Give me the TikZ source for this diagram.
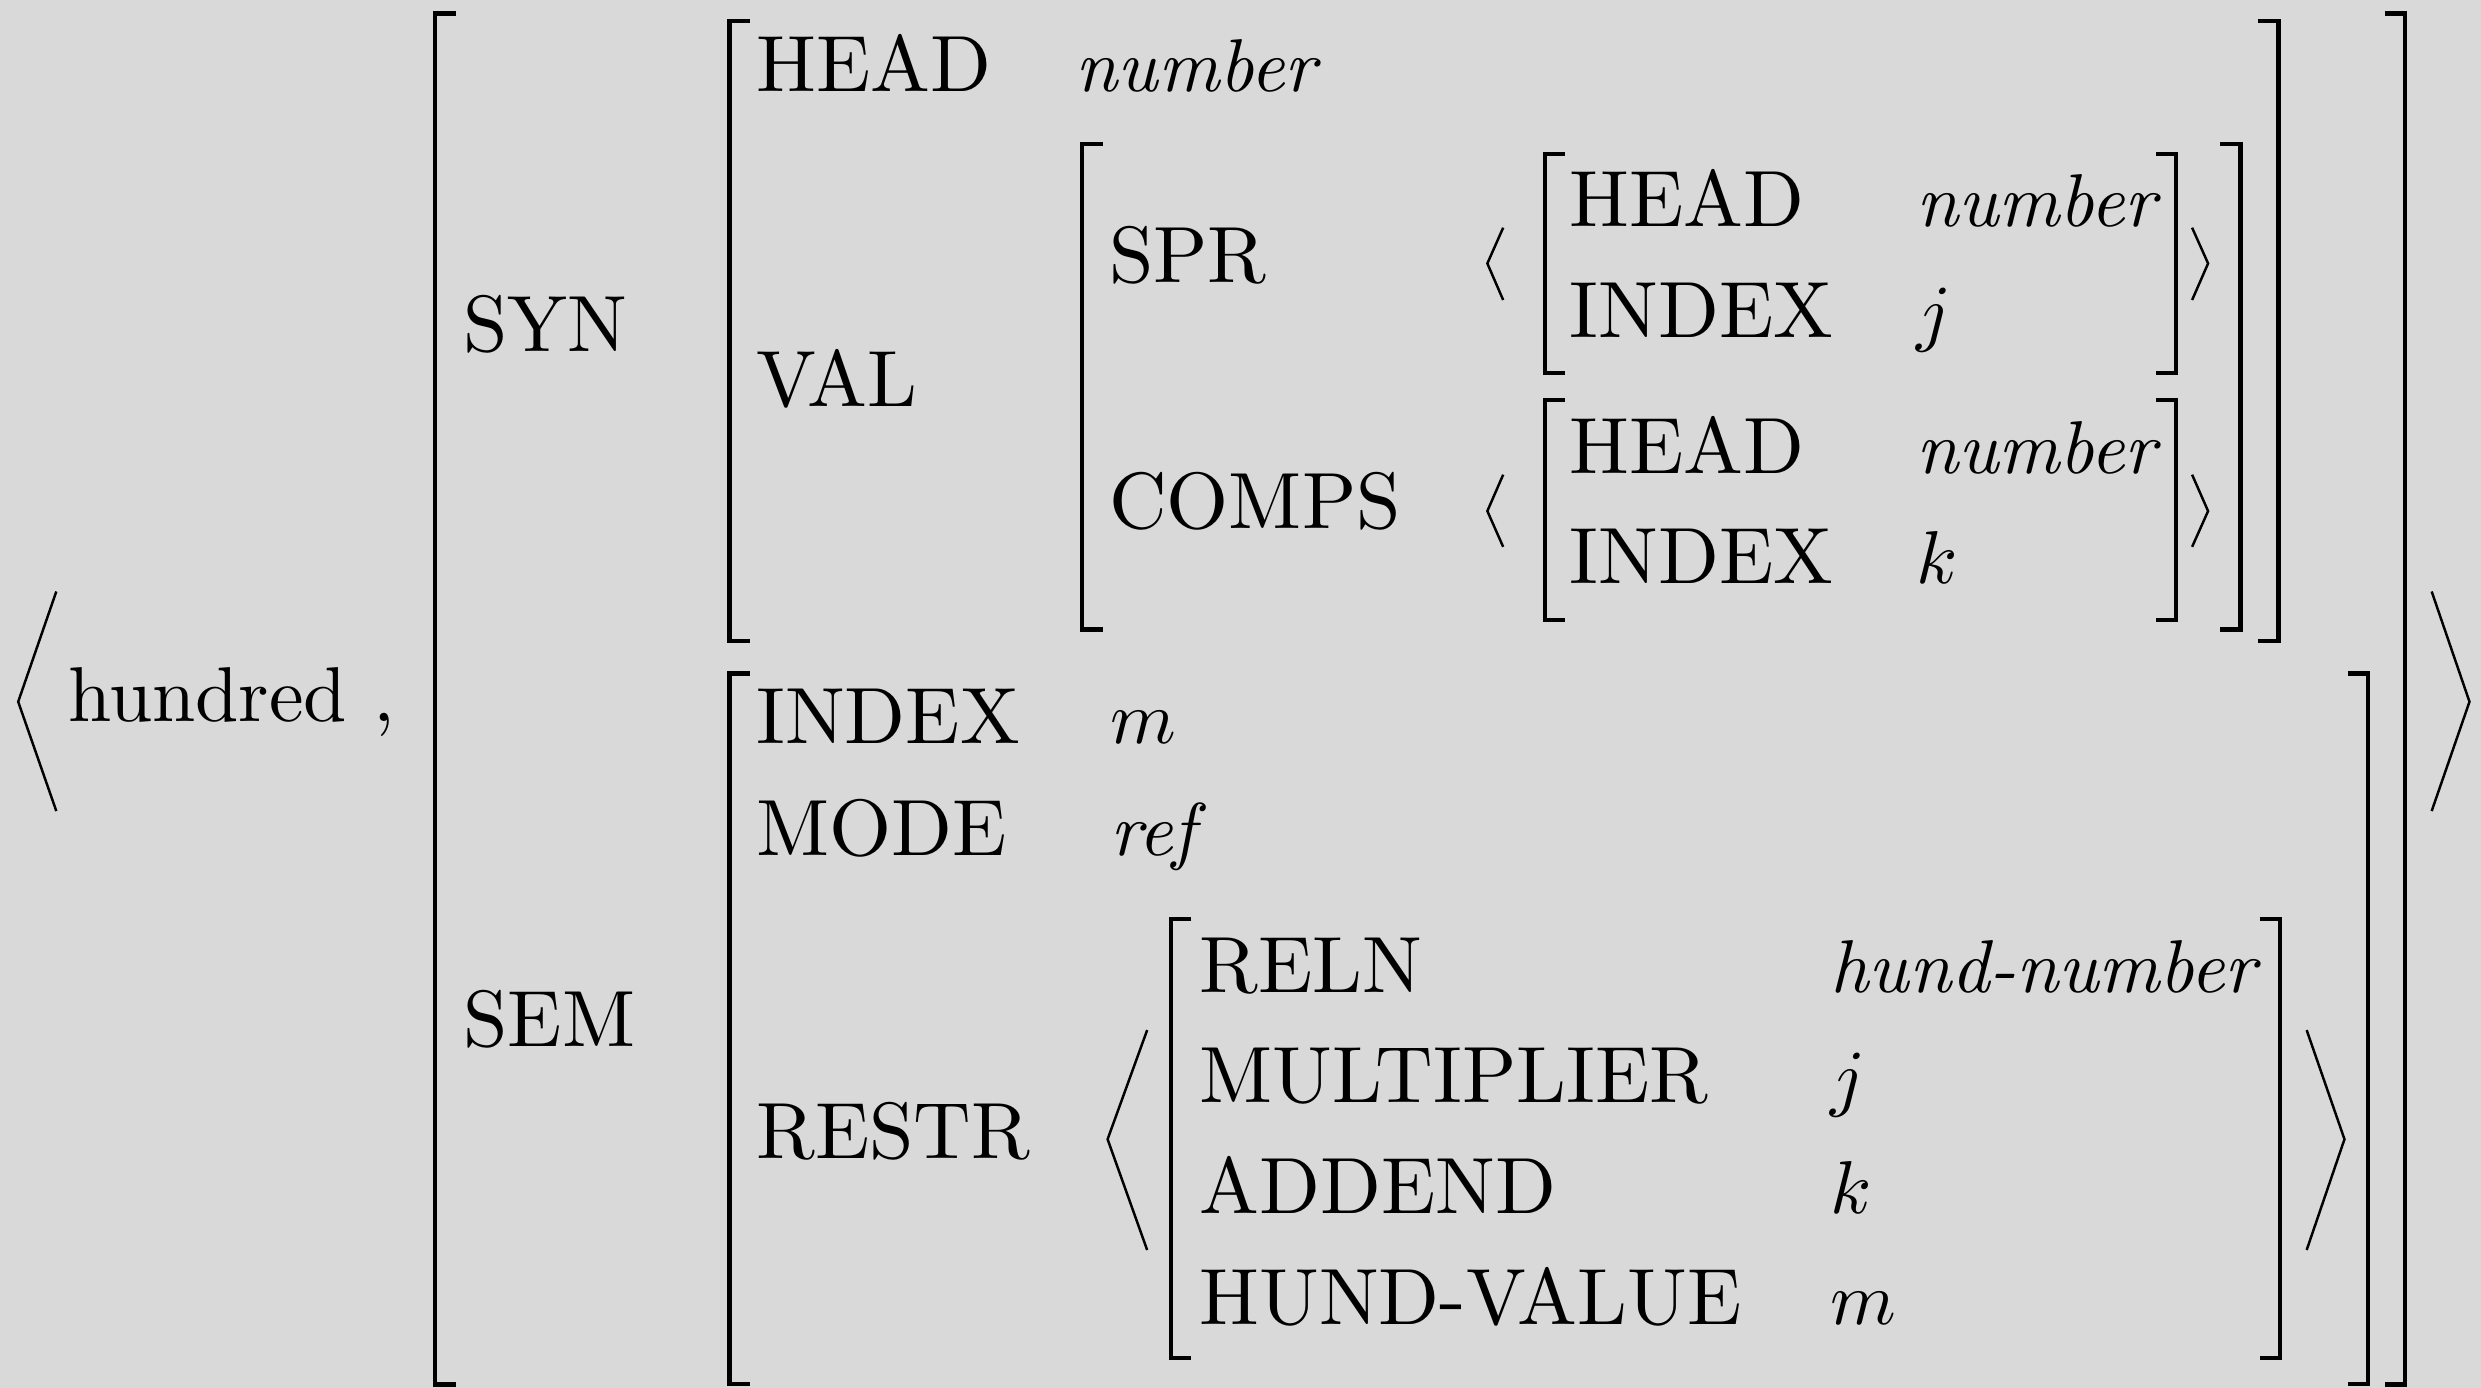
\documentclass[tikz,border=0pt]{standalone}
\usepackage{amsmath}
\usepackage{tikz}
\definecolor{bggray}{RGB}{217,217,217}
\tikzset{
  lbl/.style={anchor=base west,inner sep=0pt,scale=2.27},
  itl/.style={anchor=base west,inner sep=0pt,scale=2.13,font=\itshape},
  brk/.style={line width=1.2pt,line join=miter},
  ang/.style={line width=0.7pt,line join=miter},
}
\begin{document}
\begin{tikzpicture}[x=0.015823cm,y=-0.015823cm]
			\fill[bggray] (0,0) rectangle (1568,877);
			\useasboundingbox (0,0) rectangle (1568,877);
			% outer pair
			\draw [ang] (35.6,373.8)--(11.5,443.5)--(35.6,512.6);
			\draw [ang] (1536.8,373.8)--(1560.7,443.5)--(1536.8,512.6);
			\node[lbl,scale=0.975] (word) at (42,456) {hundred ,};
			\draw [brk] (288,8.5)--(275,8.5)--(275,875)--(288,875);
			\draw [brk] (1507,8.5)--(1520,8.5)--(1520,875)--(1507,875);
			\node[lbl] (syn) at (292,222) {SYN};
			\node[lbl] (sem) at (292,661.5) {SEM};
			% SYN
			\draw [brk] (474,13.5)--(461,13.5)--(461,405)--(474,405);
			\draw [brk] (1427,13.5)--(1440,13.5)--(1440,405)--(1427,405);
			\node[lbl] (head) at (477,57.8) {HEAD};
			\node[itl] (headval) at (679,57.8) {number};
			\node[lbl] (val) at (477,256.7) {VAL};
			\draw [brk] (697,90.8)--(684,90.8)--(684,397.8)--(697,397.8);
			\draw [brk] (1403,90.8)--(1416,90.8)--(1416,397.8)--(1403,397.8);
			\node[lbl] (spr) at (700,178.3) {SPR};
			\node[lbl] (comps) at (700,334.3) {COMPS};
			% SPR list
			\draw [ang] (950,143.9)--(940,166.5)--(950,189.6);
			\draw [ang] (1385.4,143.9)--(1395.5,166.5)--(1385.4,189.6);
			\draw [brk] (989,97.3)--(976.3,97.3)--(976.3,235.6)--(989,235.6);
			\draw [brk] (1362.7,97.3)--(1375.4,97.3)--(1375.4,235.6)--(1362.7,235.6);
			\node[lbl] (sprhead) at (991,143.3) {HEAD};
			\node[itl] (sprheadval) at (1210,143.3) {number};
			\node[lbl] (sprindex) at (991,213) {INDEX};
			\node[itl] (sprindexval) at (1210,213) {$j$};
			% COMPS list
			\draw [ang] (950,300)--(940,323)--(950,345.6);
			\draw [ang] (1385.4,300)--(1395.5,323)--(1385.4,345.6);
			\draw [brk] (989,253)--(976.3,253)--(976.3,391.6)--(989,391.6);
			\draw [brk] (1362.7,253)--(1375.4,253)--(1375.4,391.6)--(1362.7,391.6);
			\node[lbl] (compshead) at (991,299) {HEAD};
			\node[itl] (compsheadval) at (1210,299) {number};
			\node[lbl] (compsindex) at (991,369) {INDEX};
			\node[itl] (compsindexval) at (1210,369) {$k$};
			% SEM
			\draw [brk] (474,425.6)--(461,425.6)--(461,874.7)--(474,874.7);
			\draw [brk] (1483.7,425.6)--(1496.7,425.6)--(1496.7,874.7)--(1483.7,874.7);
			\node[lbl] (index) at (477,470) {INDEX};
			\node[itl] (indexval) at (701,470) {$m$};
			\node[lbl] (mode) at (477,540.7) {MODE};
			\node[itl] (modeval) at (701,540.7) {ref};
			\node[lbl] (restr) at (477,732) {RESTR};
			% RESTR list
			\draw [ang] (725,651)--(700,720)--(725,790);
			\draw [ang] (1457.8,651)--(1481.7,720)--(1457.8,790);
			\draw [brk] (753,580.8)--(740,580.8)--(740,858.3)--(753,858.3);
			\draw [brk] (1428,580.8)--(1441,580.8)--(1441,858.3)--(1428,858.3);
			\node[lbl] (reln) at (757,627) {RELN};
			\node[itl] (relnval) at (1156,627) {hund-number};
			\node[lbl] (mult) at (757,697) {MULTIPLIER};
			\node[itl] (multval) at (1156,697) {$j$};
			\node[lbl] (addend) at (757,766.7) {ADDEND};
			\node[itl] (addendval) at (1156,766.7) {$k$};
			\node[lbl] (hundval) at (757,836.8) {HUND-VALUE};
			\node[itl] (hundvalval) at (1156,836.8) {$m$};
		\end{tikzpicture}
\end{document}
